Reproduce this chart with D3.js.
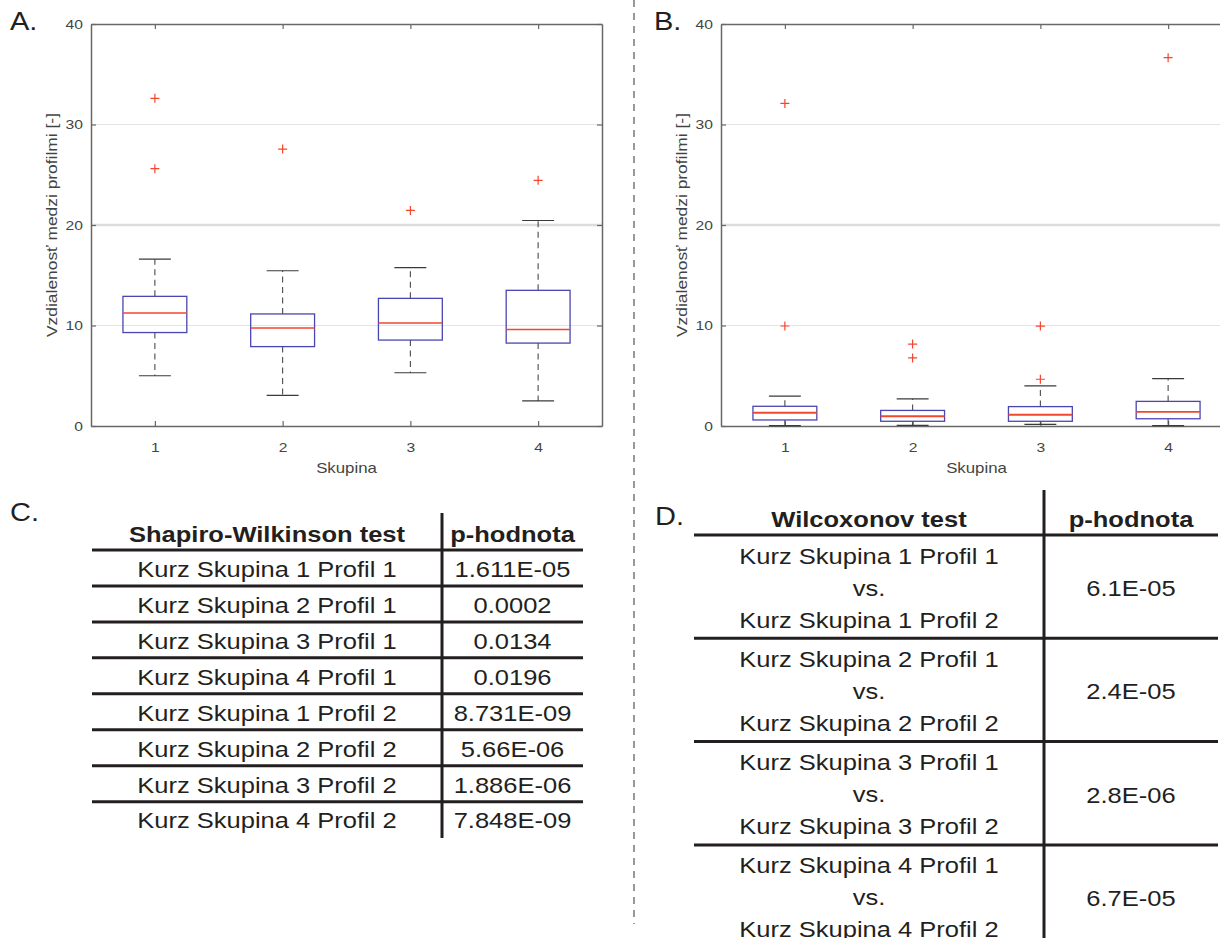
<!DOCTYPE html>
<html>
<head>
<meta charset="utf-8">
<script src="https://cdn.jsdelivr.net/npm/d3@7/dist/d3.min.js"></script>
<style>
  html, body { margin: 0; padding: 0; background: #fff; }
  svg { display: block; font-family: "Liberation Sans", Arial, Helvetica, sans-serif; }
</style>
</head>
<body>
<svg id="fig" width="1220" height="938"></svg>
<script>
// ---- Box plot data: distance between profiles per group ----
const groups = [1, 2, 3, 4];

// A: Profil 1
const aQ1  = [9.3, 7.9, 8.55, 8.25];
const aMed = [11.25, 9.75, 10.25, 9.6];
const aQ3  = [12.9, 11.15, 12.7, 13.5];
const aLo  = [5.0, 3.05, 5.3, 2.5];
const aHi  = [16.6, 15.45, 15.75, 20.45];
const aOut = [[32.6, 25.6], [27.55], [21.45], [24.45]];

// B: Profil 2
const bQ1  = [0.6, 0.47, 0.47, 0.72];
const bMed = [1.32, 0.97, 1.12, 1.4];
const bQ3  = [1.96, 1.55, 1.93, 2.45];
const bLo  = [0.04, 0.07, 0.17, 0.04];
const bHi  = [2.98, 2.69, 4.0, 4.72];
const bOut = [[32.1, 9.95], [8.15, 6.77], [9.94, 4.65], [36.65]];

const yTicks = [0, 10, 20, 30, 40];
const yLabel = "Vzdialenosť medzi profilmi [-]";
const xLabel = "Skupina";

// ---- Table data ----
const swHeader = ["Shapiro-Wilkinson test", "p-hodnota"];
const swTests = [
  "Kurz Skupina 1 Profil 1", "Kurz Skupina 2 Profil 1",
  "Kurz Skupina 3 Profil 1", "Kurz Skupina 4 Profil 1",
  "Kurz Skupina 1 Profil 2", "Kurz Skupina 2 Profil 2",
  "Kurz Skupina 3 Profil 2", "Kurz Skupina 4 Profil 2"
];
const swPvals = ["1.611E-05", "0.0002", "0.0134", "0.0196",
                 "8.731E-09", "5.66E-06", "1.886E-06", "7.848E-09"];

const wxHeader = ["Wilcoxonov test", "p-hodnota"];
const wxPairs = [
  ["Kurz Skupina 1 Profil 1", "vs.", "Kurz Skupina 1 Profil 2"],
  ["Kurz Skupina 2 Profil 1", "vs.", "Kurz Skupina 2 Profil 2"],
  ["Kurz Skupina 3 Profil 1", "vs.", "Kurz Skupina 3 Profil 2"],
  ["Kurz Skupina 4 Profil 1", "vs.", "Kurz Skupina 4 Profil 2"]
];
const wxPvals = ["6.1E-05", "2.4E-05", "2.8E-06", "6.7E-05"];

const svg = d3.select("#fig");
const INK = "#231f20";
const SX = 1.16;   // glyphs are set a little wide

// place a text at (x, y) with the horizontal widening applied
function place(sel, x, y) {
  return sel.attr("transform", (d, i) =>
    `translate(${typeof x === "function" ? x(d, i) : x},${typeof y === "function" ? y(d, i) : y}) scale(${SX},1)`);
}

// ---- Box plot panel ----
function boxPanel(left, q1, med, q3, lo, hi, out, medWidth) {
  const width = 511;
  const x = d3.scaleLinear().domain([0.5, 4.5]).range([left, left + width]);
  const y = d3.scaleLinear().domain([0, 40]).range([426, 24]);
  const g = svg.append("g");
  const bw = 0.5, cw = 0.25;

  // horizontal grid
  g.selectAll("line.grid").data(yTicks.filter(d => d > 0 && d < 40)).join("line")
    .attr("x1", x(0.5)).attr("x2", x(4.5))
    .attr("y1", d => y(d)).attr("y2", d => y(d))
    .attr("stroke", d => d === 20 ? "#dcdcdc" : "#e4e4e4")
    .attr("stroke-width", d => d === 20 ? 2.6 : 1);

  // axes (ticks point inward, box on all four sides)
  const axStyle = sel => {
    sel.selectAll("path.domain").attr("stroke", "#686868").attr("stroke-width", 1.5);
    sel.selectAll(".tick line").attr("stroke", "#686868").attr("stroke-width", 1.2);
    sel.selectAll(".tick text").attr("fill", "#444").attr("font-size", 13.5)
       .attr("font-family", "Liberation Sans, Arial, sans-serif")
       .attr("transform", `scale(${SX},1)`);
  };
  g.append("g").attr("transform", `translate(0,${y(0)})`)
    .call(d3.axisBottom(x).tickValues(groups).tickFormat(d3.format("d"))
      .tickSizeInner(-5).tickSizeOuter(0).tickPadding(16)).call(axStyle);
  g.append("g").attr("transform", `translate(0,${y(40)})`)
    .call(d3.axisTop(x).tickValues(groups).tickFormat("")
      .tickSizeInner(-5).tickSizeOuter(0)).call(axStyle);
  g.append("g").attr("transform", `translate(${x(0.5)},0)`)
    .call(d3.axisLeft(y).tickValues(yTicks).tickFormat(d3.format("d"))
      .tickSizeInner(-5).tickSizeOuter(0).tickPadding(7)).call(axStyle);
  g.append("g").attr("transform", `translate(${x(4.5)},0)`)
    .call(d3.axisRight(y).tickValues(yTicks).tickFormat("")
      .tickSizeInner(-5).tickSizeOuter(0)).call(axStyle);

  const boxes = groups.map((k, i) => ({ k, q1: q1[i], med: med[i], q3: q3[i], lo: lo[i], hi: hi[i], out: out[i] }));
  const b = g.selectAll("g.box").data(boxes).join("g");

  // whiskers
  b.append("line").attr("x1", d => x(d.k)).attr("x2", d => x(d.k))
    .attr("y1", d => y(d.q3)).attr("y2", d => y(d.hi))
    .attr("stroke", "#4a4a4a").attr("stroke-width", 1.1).attr("stroke-dasharray", "6,4.5");
  b.append("line").attr("x1", d => x(d.k)).attr("x2", d => x(d.k))
    .attr("y1", d => y(d.q1)).attr("y2", d => y(d.lo))
    .attr("stroke", "#4a4a4a").attr("stroke-width", 1.1).attr("stroke-dasharray", "6,4.5");
  // whisker caps
  ["hi", "lo"].forEach(key => {
    b.append("line")
      .attr("x1", d => x(d.k - cw / 2)).attr("x2", d => x(d.k + cw / 2))
      .attr("y1", d => y(d[key])).attr("y2", d => y(d[key]))
      .attr("stroke", "#3a3a3a").attr("stroke-width", 1.2);
  });
  // box
  b.append("rect")
    .attr("x", d => x(d.k - bw / 2)).attr("width", x(bw) - x(0))
    .attr("y", d => y(d.q3)).attr("height", d => y(d.q1) - y(d.q3))
    .attr("fill", "none").attr("stroke", "#4a46b0").attr("stroke-width", 1.3);
  // median
  b.append("line")
    .attr("x1", d => x(d.k - bw / 2)).attr("x2", d => x(d.k + bw / 2))
    .attr("y1", d => y(d.med)).attr("y2", d => y(d.med))
    .attr("stroke", "#f2472c").attr("stroke-width", medWidth);
  // outliers
  const pts = boxes.flatMap(d => d.out.map(v => ({ k: d.k, v })));
  const s = 4.5;
  g.selectAll("path.out").data(pts).join("path")
    .attr("d", d => `M${x(d.k) - s},${y(d.v)}H${x(d.k) + s}M${x(d.k)},${y(d.v) - s}V${y(d.v) + s}`)
    .attr("stroke", "#f2472c").attr("stroke-width", 1.2).attr("fill", "none");

  // axis titles
  place(g.append("text"), x(2.5), 473).attr("text-anchor", "middle")
    .attr("font-size", 14.5).attr("fill", "#444").text(xLabel);
  g.append("text")
    .attr("transform", `translate(${x(0.5) - 34},${y(20)}) rotate(-90) scale(${SX},1)`)
    .attr("text-anchor", "middle").attr("font-size", 15).attr("fill", "#444").text(yLabel);
  return x;
}

boxPanel(91, aQ1, aMed, aQ3, aLo, aHi, aOut, 1.4);
boxPanel(721, bQ1, bMed, bQ3, bLo, bHi, bOut, 1.8);

// panel letters
const letters = [["A.", 10, 30], ["B.", 654, 30], ["C.", 10, 521], ["D.", 655, 525]];
place(svg.selectAll("text.letter").data(letters).join("text"), d => d[1], d => d[2])
  .attr("font-size", 25).attr("fill", INK).text(d => d[0]);

// dashed divider between left and right halves
svg.append("line").attr("x1", 634).attr("x2", 634).attr("y1", 0).attr("y2", 924)
  .attr("stroke", "#555").attr("stroke-width", 1.2).attr("stroke-dasharray", "7,6");

// ---- Table C: Shapiro-Wilk ----
(function () {
  const left = 92, right = 583, split = 442;
  const rowY = d3.scaleLinear().domain([0, 1]).range([550, 585.95]);
  const g = svg.append("g");
  const cL = (left + split) / 2, cR = (split + right) / 2;
  place(g.append("text"), cL, 541.7).attr("text-anchor", "middle")
    .attr("font-weight", "bold").attr("font-size", 22).attr("fill", INK).text(swHeader[0]);
  place(g.append("text"), cR, 541.7).attr("text-anchor", "middle")
    .attr("font-weight", "bold").attr("font-size", 22).attr("fill", INK).text(swHeader[1]);
  // row separators
  g.selectAll("line.sep").data(d3.range(swTests.length)).join("line")
    .attr("x1", left).attr("x2", right)
    .attr("y1", d => rowY(d)).attr("y2", d => rowY(d))
    .attr("stroke", INK).attr("stroke-width", 3);
  g.append("line").attr("x1", split).attr("x2", split).attr("y1", 513).attr("y2", 838)
    .attr("stroke", INK).attr("stroke-width", 3);
  place(g.selectAll("text.t").data(swTests).join("text"), cL, (d, i) => rowY(i) + 26.8)
    .attr("text-anchor", "middle").attr("font-size", 22).attr("fill", INK).text(d => d);
  place(g.selectAll("text.p").data(swPvals).join("text"), cR, (d, i) => rowY(i) + 26.8)
    .attr("text-anchor", "middle").attr("font-size", 22).attr("fill", INK).text(d => d);
})();

// ---- Table D: Wilcoxon ----
(function () {
  const left = 694, right = 1218, split = 1044;
  const rowY = d3.scaleLinear().domain([0, 1]).range([535, 638.3]);
  const g = svg.append("g");
  const cL = (left + split) / 2, cR = (split + right) / 2;
  place(g.append("text"), cL, 527).attr("text-anchor", "middle")
    .attr("font-weight", "bold").attr("font-size", 22).attr("fill", INK).text(wxHeader[0]);
  place(g.append("text"), cR, 527).attr("text-anchor", "middle")
    .attr("font-weight", "bold").attr("font-size", 22).attr("fill", INK).text(wxHeader[1]);
  g.selectAll("line.sep").data(d3.range(wxPairs.length)).join("line")
    .attr("x1", left).attr("x2", right)
    .attr("y1", d => rowY(d)).attr("y2", d => rowY(d))
    .attr("stroke", INK).attr("stroke-width", 3);
  g.append("line").attr("x1", split).attr("x2", split).attr("y1", 490).attr("y2", 938)
    .attr("stroke", INK).attr("stroke-width", 3);
  wxPairs.forEach((lines, i) => {
    place(g.selectAll(null).data(lines).join("text"), cL, (d, j) => rowY(i) + 28.5 + j * 32)
      .attr("text-anchor", "middle").attr("font-size", 22).attr("fill", INK).text(d => d);
  });
  place(g.selectAll("text.p").data(wxPvals).join("text"), cR, (d, i) => rowY(i) + 61)
    .attr("text-anchor", "middle").attr("font-size", 22).attr("fill", INK).text(d => d);
})();
</script>
</body>
</html>
